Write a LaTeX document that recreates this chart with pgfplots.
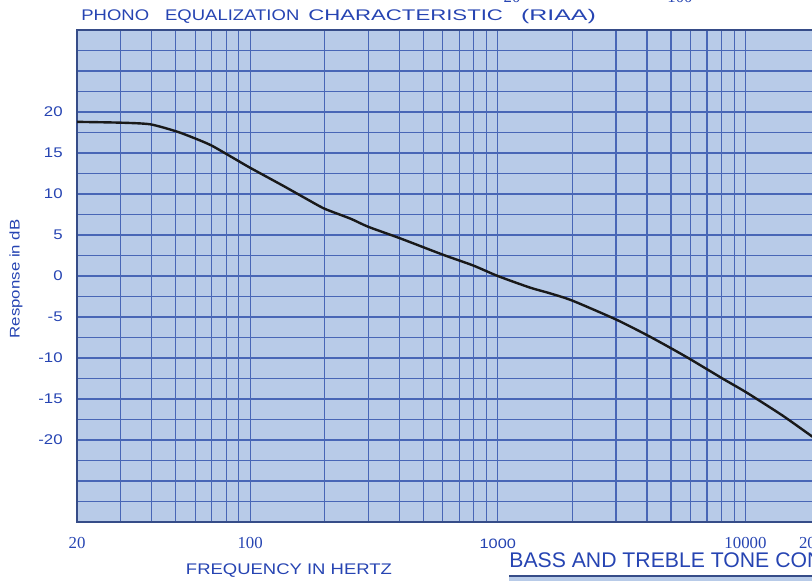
\documentclass[border=0pt]{standalone}
\usepackage{fontspec}
\setmainfont{Liberation Sans}
\newfontfamily\widesans[FakeStretch=1.2]{Liberation Sans}
\newfontfamily\serif{Liberation Serif}
\usepackage{graphicx}
\usepackage{pgfplots}
\pgfplotsset{compat=1.18}

\definecolor{chartbg}{RGB}{184,203,232}
\definecolor{gridblue}{RGB}{72,102,182}
\definecolor{inkblue}{RGB}{38,68,178}

\newcommand{\serlab}[1]{{\serif\fontsize{8.4}{9}\selectfont #1}}

\begin{document}
\begin{tikzpicture}
% the scan is cropped on the right and at the top
\useasboundingbox (-38.5pt,-29pt) rectangle (367.5pt,261pt);
\clip (-38.5pt,-29pt) rectangle (367.5pt,261pt);
\begin{axis}[
    scale only axis,
    width=371.5pt, height=246pt,
    xmode=log,
    xmin=20, xmax=20000,
    ymin=-30, ymax=30,
    axis background/.style={fill=chartbg},
    axis line style={draw=gridblue!75!black, line width=1.1pt},
    tick style={draw=none},
    grid=major,
    major grid style={gridblue, line width=0.6pt},
    % every grid line is a tick, labels only on some
    xtick={20,30,40,50,60,70,80,90,
           100,200,300,400,500,600,700,800,900,
           1000,2000,3000,4000,5000,6000,7000,8000,9000,
           10000,20000},
    xticklabels={\serlab{20},,,,,,,,
                 \serlab{100},,,,,,,,,
                 {\widesans\fontsize{6.8}{8}\selectfont 1000},,,,,,,,,
                 \serlab{10000},\serlab{20000}},
    xticklabel style={text=inkblue, anchor=base, inner sep=0pt, yshift=-13pt},
    ytick={-30,-27.5,-25,-22.5,-20,-17.5,-15,-12.5,-10,-7.5,-5,-2.5,0,
           2.5,5,7.5,10,12.5,15,17.5,20,22.5,25,27.5,30},
    yticklabels={,,,,-20,,-15,,-10,,-5,,0,,5,,10,,15,,20,,,,},
    yticklabel style={font=\widesans\fontsize{7}{8}\selectfont, text=inkblue,
                      anchor=east, inner sep=0pt, xshift=-7pt},
    title={\widesans\fontsize{7.7}{9}\selectfont PHONO\hspace{8pt}EQUALIZATION\hspace{4.5pt}\scalebox{1.2}[1]{CHARACTERISTIC}\hspace{9pt}\scalebox{1.35}[1]{(RIAA)}},
    every axis title shift=0pt,
    title style={text=inkblue, at={(axis description cs:0,1)}, anchor=base west,
                 inner sep=0pt, xshift=2pt, yshift=5pt},
    xlabel={FREQUENCY IN HERTZ},
    every axis x label/.style={at={(axis description cs:0.2853,0)}, anchor=base,
                 inner sep=0pt, yshift=-26pt, text=inkblue,
                 font=\widesans\fontsize{7.7}{9}\selectfont},
    ylabel={Response in dB},
    every axis y label/.style={at={(axis description cs:-0.0821,0.494)}, anchor=center,
                 rotate=90, inner sep=0pt, text=inkblue,
                 font=\widesans\fontsize{7}{8}\selectfont},
]
\addplot[black!90, line width=1.2pt, smooth, tension=0.4] coordinates {
    (20,18.8) (30,18.7) (39.5,18.5) (50.8,17.6) (62,16.6) (70,15.9)
    (80,14.9) (90,14.0) (100,13.2) (136,11.0) (169,9.4) (200,8.2)
    (254,7.0) (300,6.0) (403,4.6) (600,2.6) (793,1.3) (1000,0.0)
    (1345,-1.4) (1620,-2.1) (2000,-3.0) (3000,-5.3) (4000,-7.2)
    (5000,-8.8) (5950,-10.1) (8075,-12.5) (10090,-14.2) (14090,-17.0)
    (18450,-19.5) (20000,-20.2)
};
\end{axis}
% remnants of the neighbouring charts on the scanned page
\node[anchor=base, inner sep=0pt, text=inkblue, font=\serif\fontsize{8.4}{9}\selectfont]
    at (217.5pt,259.5pt) {20};
\node[anchor=base, inner sep=0pt, text=inkblue, font=\serif\fontsize{8.4}{9}\selectfont]
    at (301.5pt,259.5pt) {100};
\node[anchor=base west, inner sep=0pt, text=inkblue, font=\fontsize{10.6}{12}\selectfont]
    at (216pt,-22.5pt) {BASS AND TREBLE TONE CONTROL};
\fill[chartbg] (216pt,-27pt) rectangle (400pt,-30pt);
\draw[gridblue!75!black, line width=1.1pt] (216pt,-27pt) -- (400pt,-27pt);
\end{tikzpicture}
\end{document}
